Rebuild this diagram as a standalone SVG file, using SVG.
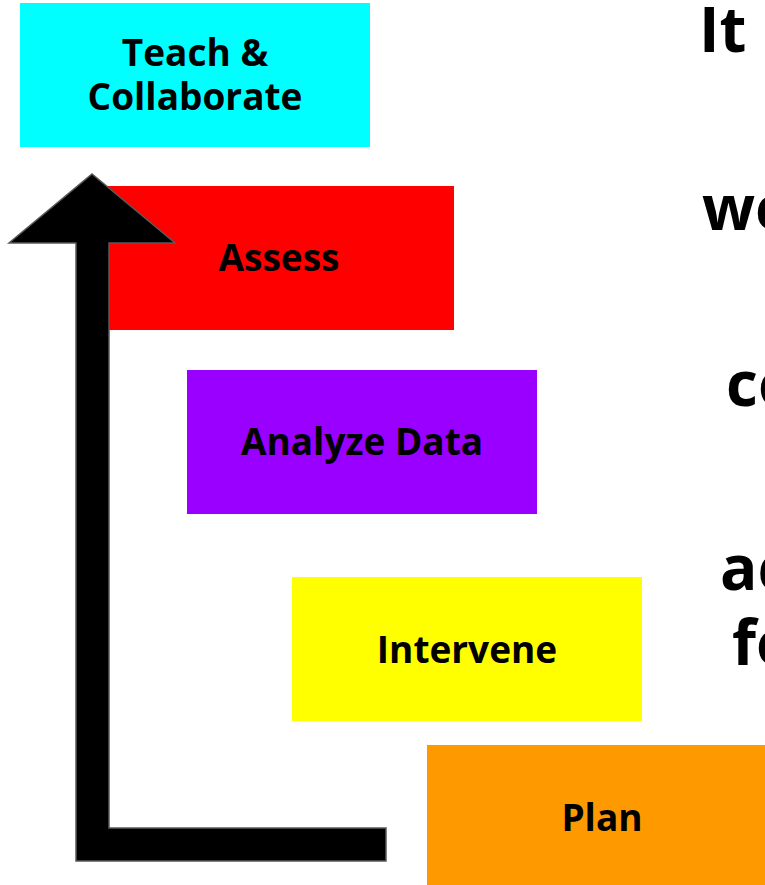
<svg xmlns="http://www.w3.org/2000/svg" width="765" height="885" viewBox="0 0 765 885">
<style>
.lbl{font-family:"Open Sans","Noto Sans","DejaVu Sans",sans-serif;font-weight:bold;font-size:37px;fill:#000;text-anchor:middle}
.big{font-family:"Open Sans","Noto Sans","DejaVu Sans",sans-serif;font-weight:bold;font-size:62px;fill:#000}
</style>
<rect width="765" height="885" fill="#fff"/>
<g id="teach">
<rect x="20" y="3" width="350" height="144" fill="#00FFFF"/>
<text class="lbl" x="195" y="66">Teach &amp;</text>
<text class="lbl" x="195" y="110">Collaborate</text>
</g>
<g id="assess">
<rect x="104" y="186" width="350" height="144" fill="#FF0000"/>
<text class="lbl" x="279" y="271">Assess</text>
</g>
<g id="analyze">
<rect x="187" y="370" width="350" height="144" fill="#9900FF"/>
<text class="lbl" x="362" y="455">Analyze Data</text>
</g>
<g id="intervene">
<rect x="292" y="577" width="350" height="144" fill="#FFFF00"/>
<text class="lbl" x="467" y="663">Intervene</text>
</g>
<g id="plan">
<rect x="427" y="745" width="350" height="144" fill="#FF9900"/>
<text class="lbl" x="602" y="831">Plan</text>
</g>
<g id="connectors">
<path d="M76,861 L76,243 L9,243 L92,174 L175,243 L109,243 L109,828 L386,828 L386,861 Z" fill="#000" stroke="#595959" stroke-width="1.5" stroke-linejoin="miter"/>
</g>
<g id="caption">
<text class="big" x="699" y="52">It</text>
<text class="big" x="702" y="230">we</text>
<text class="big" x="726" y="406">co</text>
<text class="big" x="720" y="590">ac</text>
<text class="big" x="732" y="665">fo</text>
</g>
</svg>
